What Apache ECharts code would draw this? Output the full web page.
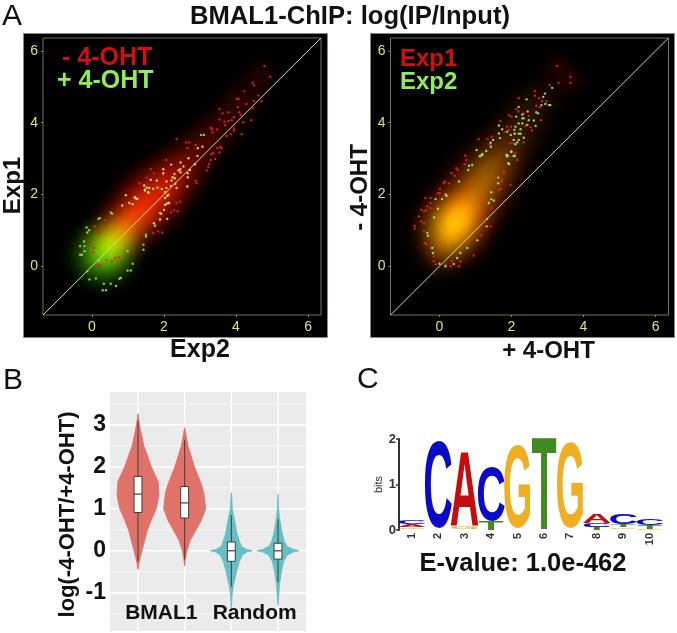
<!DOCTYPE html>
<html><head><meta charset="utf-8">
<style>html,body{margin:0;padding:0;background:#fff}#c{width:677px;height:633px}</style>
<script src="https://cdn.jsdelivr.net/npm/echarts@6/dist/echarts.min.js"></script></head>
<body><div id="c"></div>
<script>
const scatterTicks=[0,2,4,6];
const scatterRange=[-1.36,6.36];
const diagonal=[[-1.36,-1.36],[6.36,6.36]];
// smoothed density: x, y, spread, weight
const a1RedDensity=[[0.35,0.4,1.1,.32],[0.7,0.85,1.1,.42],[1.1,1.3,1.2,.5],[1.5,1.75,1.25,.45],[1.9,2.1,1.25,.4],[2.3,2.5,1.1,.33],[2.7,2.95,1.0,.24],[3.1,3.4,.9,.18],[3.5,3.8,.9,.14],[3.9,4.3,.9,.12],[4.3,4.7,.8,.11],[4.7,5.3,.7,.12]];
const a1GreenDensity=[[0.3,0.3,1.2,.6],[0.6,.65,1.05,.33],[.95,1.05,.9,.2],[1.4,1.5,.9,.1],[1.9,2.1,.9,.04]];
const a2RedDensity=[[0.1,.4,1.0,.2],[0.3,1.0,1.4,.5],[.5,1.3,1.4,.38],[.8,1.7,1.4,.32],[1.1,2.2,1.4,.3],[1.45,2.7,1.3,.26],[1.8,3.2,1.2,.18],[2.2,3.8,1.1,.13],[2.6,4.4,1.0,.11],[3.0,4.9,.8,.07],[3.27,5.58,.6,.1],[3.64,5.2,.6,.12]];
const a2GreenDensity=[[0.1,.4,.9,.1],[0.3,1.0,1.15,.42],[.5,1.3,1.15,.25],[.8,1.7,1.1,.2],[1.1,2.2,1.1,.2],[1.45,2.7,1.0,.17],[1.8,3.2,1.0,.1],[2.2,3.8,1.0,.06],[2.6,4.4,.9,.04]];
const a1Green=[[0.18,1.32],[0.22,1.34],[0.52,1.5],[0.56,1.46],[-0.15,1.08],[-0.08,1.0],[-0.13,0.94],[-0.22,0.69],[-0.33,0.56],[-0.21,0.56],[-0.21,0.42],[-0.33,0.32],[-0.28,0.32],[0.2,0.16],[-0.13,-0.14],[-0.07,-0.37],[0.11,-0.34],[0.33,-0.49],[0.52,-0.49],[0.76,-0.35],[0.8,-0.33],[0.67,-0.55],[0.3,-0.67],[0.39,-0.67],[0.99,0.42],[1.13,0.07],[0.99,-0.12],[1.08,-0.12],[1.43,0.46],[1.43,0.6],[1.5,0.88],[1.5,0.83],[3.03,3.66],[3.11,3.66]];
const a1Yellow=[[0.94,1.98],[0.84,1.69],[1.04,1.76],[1.13,1.73],[1.19,1.92],[1.26,1.88],[1.89,1.48],[1.92,1.46],[1.72,1.2],[1.75,1.13],[1.89,1.3],[2.09,1.32],[2,1.57],[2.07,1.74],[2.14,1.76],[2.03,2.06],[2.12,1.99],[1.47,2.11],[1.56,2.06],[2.94,3.29],[3.07,3.33],[2.93,3.07],[2.68,3.01],[2.46,2.89],[2.2,2.83],[2.86,2.84],[2.72,2.68],[2.54,2.78],[2.45,2.7],[2.4,2.67],[2.46,2.62],[1.98,2.7],[1.98,2.59],[2.29,2.57],[2.24,2.48],[2.3,2.45],[2.66,2.59],[2.66,2.48],[2.21,2.39],[2.07,2.36],[1.8,2.39],[1.63,2.41],[1.45,2.25],[1.52,2.19],[1.59,2.18],[1.7,2.16],[1.82,2.19],[1.94,2.15],[2.07,2.18],[2.19,2.24],[2.31,2.3],[2.35,2.18],[2.65,2.22],[1.47,2.13],[1.57,2.05],[2.09,1.96],[2.03,1.9],[2.12,1.76],[2.03,1.71],[1.2,1.9],[1.24,1.87]];
const a1Red=[[0.08,1.11],[0.36,1.28],[0.15,.94],[.2,.94],[.27,1.04],[-0.04,.67],[.06,.51],[.04,.39],[.41,.17],[.55,.14],[.64,.23],[.75,.25],[.18,.02],[.24,.02],[.76,.02],[1.7,.93],[1.84,.97],[1.95,.94],[2.19,1.5],[2.28,1.56],[2.38,1.53],[4.79,5.58],[4.95,5.28],[4.46,5.11],[4.5,5.04],[4.23,4.88],[4.62,4.76],[4.02,4.67],[4.07,4.66],[4.29,4.52],[4.5,4.6],[4.71,4.6],[4.05,4.44],[4.46,4.4],[3.54,4.38],[3.79,4.29],[3.63,4.26],[4.09,4.29],[4.13,4.21],[3.54,4.09],[3.94,4.15],[3.88,4.07],[3.79,4.05],[3.68,4.03],[4.2,4.01],[4.42,4.07],[3.3,3.86],[3.33,3.82],[3.48,3.81],[3.7,3.93],[3.95,3.84],[3.94,3.78],[3.35,3.73],[4.16,3.68],[3.74,3.63],[3.86,3.68],[2.35,3.55],[2.61,3.45],[2.7,3.45],[2.88,3.38],[2.65,3.29],[3.56,3.33],[3.48,3.29],[3.6,3.29],[3.37,3.15],[3.32,3.12],[3.54,3.17],[3.42,2.99],[3.3,2.96],[3.25,2.84],[3.23,2.76],[3.19,2.67],[2.06,2.96],[1.63,2.71],[1.72,2.59],[1.52,2.47],[1.32,2.31],[2.88,2.38],[2.91,2.31],[2.45,1.8],[2.35,1.76],[1.98,2.55]];
const a2Red=[[-.69,1.13],[-.69,1.05],[-.57,1.39],[-.51,1.25],[-.43,1.2],[-.51,1.57],[-.43,1.53],[-.37,1.57],[-.34,1.67],[-.39,1.9],[-.25,1.9],[-.25,1.76],[-.25,1.62],[-.05,2.04],[.01,2.04],[.01,2.16],[.15,2.36],[.12,2.31],[.26,2.31],[.33,2.59],[.42,2.52],[.47,2.73],[.51,2.68],[.72,3.08],[.7,2.84],[.75,2.96],[-.41,.65],[-.37,.62],[-.43,.97],[-.22,.51],[-.16,.28],[-.16,.14],[-.11,.05],[.17,.05],[.35,.14],[.31,0],[.54,0],[.58,.14],[.95,.3],[1.16,.86],[1.42,1.11],[1.2,1.3],[1.65,2.13],[1.7,2.15],[1.74,2.41],[1.72,2.36],[1.97,2.27],[1.79,2.59],[1.46,1.62],[2.16,2.96],[3.27,5.58],[3.64,5.28],[3.64,5.11],[3.31,5.11],[3.06,5.05],[2.65,4.88],[2.65,4.75],[2.76,4.68],[2.85,4.6],[2.97,4.6],[2.2,4.68],[2.69,4.47],[2.79,4.43],[2.14,4.38],[2.19,4.31],[1.93,4.21],[2,4.17],[2.34,4.26],[2.48,4.19],[2.82,4.07],[1.69,4.05],[2.39,3.91],[1.88,3.89],[1.99,3.89],[2.53,3.87],[2.57,3.78],[1.8,3.73],[1.93,3.8],[2.08,3.7],[1.46,3.61],[1.34,3.55],[1.09,3.54],[2.34,3.45],[1.97,3.43],[2.06,3.43],[2.11,3.15],[1.93,3.07],[2.16,2.96],[1.79,2.64],[1.4,3.4]];
const a2Green=[[-.34,.93],[-.32,.85],[-.15,1.36],[-.04,1.6],[-.11,1.87],[.07,1.87],[.17,2.0],[.2,1.96],[.54,2.36],[.82,2.8],[.8,2.68],[.91,2.82],[1.14,3.08],[1.19,3.13],[-.2,.51],[-.18,.37],[0,.07],[.17,0],[.4,.06],[.49,.23],[.58,.37],[.77,.51],[1.05,.72],[1.31,1.11],[1.32,1.32],[1.37,1.76],[1.44,2.06],[1.44,1.87],[1.51,1.83],[1.63,2.47],[1.63,2.31],[1.88,3.1],[1.93,2.85],[2,3.19],[2.09,3.07],[3.13,4.97],[2.93,4.81],[2.88,4.72],[2.42,4.65],[2.83,4.49],[2.94,4.52],[3.04,4.49],[3.08,4.49],[2.2,4.44],[2.13,4.17],[2.69,4.29],[2.74,4.26],[2.3,4.23],[2.45,4.31],[2.3,4.12],[2.34,4.12],[2.48,4.07],[2.62,4.06],[2.2,3.98],[2.3,3.98],[1.65,3.92],[2.67,3.91],[2.11,3.89],[2.44,3.94],[1.74,3.82],[2.08,3.8],[1.88,3.75],[2.25,3.82],[1.65,3.7],[2.09,3.69],[2.2,3.69],[2.25,3.69],[1.98,3.66],[2.34,3.58],[1.49,3.52],[1.42,3.44],[1.68,3.57],[2.06,3.52],[2.2,3.52],[2.16,3.45],[2.11,3.4],[1.03,3.24],[1.3,3.21],[1.43,3.33],[1.19,3.1],[1.12,3.06],[1.99,3.19],[1.86,3.1],[2.06,3.07],[1.91,2.87],[1.88,3.06]];

const violinX=[1,2,3,4];
const violinColumns=[0,0,1,1];
const violinProfiles=[
 [[3.26,0],[3.0,.03],[2.5,.125],[2.0,.285],[1.65,.43],[1.35,.45],[1.21,.43],[1.0,.39],[.73,.285],[.49,.2],[0,.085],[-.22,.035],[-.44,0]],
 [[2.93,0],[2.5,.07],[2.0,.21],[1.57,.36],[1.38,.41],[1.21,.43],[1.0,.45],[.73,.36],[.49,.24],[.25,.12],[0,.05],[-.18,.02],[-.36,0]],
 [[1.38,0],[1.2,.012],[1.0,.02],[.73,.07],[.41,.12],[.21,.18],[.1,.22],[.03,.33],[0,.45],[-.03,.33],[-.1,.24],[-.26,.17],[-.5,.11],[-.78,.055],[-1,.02],[-1.37,0]],
 [[1.35,0],[1.0,.012],[.73,.04],[.41,.09],[.21,.14],[.1,.2],[.03,.33],[0,.45],[-.03,.33],[-.1,.2],[-.26,.12],[-.5,.07],[-.78,.035],[-1.3,0]]];
const boxQ1=[.91,.78,-.25,-.2], boxMedian=[1.35,1.14,0,0], boxQ3=[1.77,1.53,.21,.18], whiskerLow=[-.25,-.2,-.85,-.75], whiskerHigh=[3.1,2.64,.85,.75];
const violinMajorY=[-1,0,1,2,3], violinMinorY=[-1.5,-.5,.5,1.5,2.5,3.5];
const violinGroups=['BMAL1','Random'], violinGroupAt=[1.5,3.5];
const logoColumns=[1,2,3,4,5,6,7,8,9,10];
// column, letter, bottom bits, top bits
const logoLetters=[[1,'G',.02,.06],[1,'A',.07,.11],[1,'C',.12,.22],
 [2,'C',0,1.96],
 [3,'G',.02,.07],[3,'A',.08,1.66],
 [4,'T',0,.18],[4,'C',.18,1.38],
 [5,'G',0,1.88],[6,'T',0,1.96],[7,'G',0,1.92],
 [8,'T',0,.07],[8,'C',.07,.15],[8,'A',.15,.33],
 [9,'G',.02,.06],[9,'T',.07,.13],[9,'C',.13,.35],
 [10,'G',.01,.03],[10,'T',.03,.1],[10,'C',.1,.25]];

const FONT='"Liberation Sans",Arial,sans-serif';
const chart=echarts.init(document.getElementById('c'),null,{renderer:'canvas'});
const stops=(c)=>[[0,1],[.2,.88],[.4,.6],[.6,.3],[.8,.09],[1,0]].map(s=>({offset:s[0],color:`rgba(${c},${s[1]})`}));
function blobSeries(data,idx,rgb){
  return {type:'custom',xAxisIndex:idx,yAxisIndex:idx,blendMode:'lighter',silent:true,clip:true,z:2,data,
   renderItem(p,api){
    const c=api.coord([api.value(0),api.value(1)]),r=api.size([api.value(2),0])[0],w=api.value(3);
    return {type:'circle',shape:{cx:c[0],cy:c[1],r},style:{opacity:w,
      fill:new echarts.graphic.RadialGradient(.5,.5,.5,stops(rgb))}};
   }};
}
const dots=(data,idx,color)=>({type:'scatter',xAxisIndex:idx,yAxisIndex:idx,data,symbolSize:2.4,silent:true,z:4,itemStyle:{color,opacity:.9}});
const diag=(idx)=>({type:'line',xAxisIndex:idx,yAxisIndex:idx,data:diagonal,symbol:'none',silent:true,z:3,lineStyle:{color:'#d8d890',width:1}});
function sAxis(gi,name,nameExtra,pos){
  const col='#e4e070';
  return {gridIndex:gi,type:'value',min:scatterRange[0],max:scatterRange[1],position:pos,
    splitLine:{show:false},axisLine:{show:false,onZero:false},
    axisTick:{show:true,length:2,customValues:scatterTicks,lineStyle:{color:'#8a8a50'}},
    axisLabel:{customValues:scatterTicks,color:col,fontFamily:FONT,fontSize:14,margin:5},
    name,nameLocation:'middle',nameGap:nameExtra.gap,nameRotate:pos==='left'?90:0,
    nameTextStyle:{fontFamily:FONT,fontWeight:'bold',fontSize:nameExtra.size||24,color:'#111',padding:nameExtra.padding||0}};
}
const txt=(text,left,top,size,color,weight,align)=>({text,left,top,textAlign:align||'left',padding:0,
  textStyle:{fontFamily:FONT,fontSize:size,color,fontWeight:weight||'bold',lineHeight:size}});
const letterColor={A:'#c40d0d',C:'#0a0ac8',G:'#eeaf22',T:'#3f8a22'};
const letterWidth={A:.722,C:.722,G:.778,T:.72};
const letterHeight={A:.68,C:.727,G:.727,T:.68};
chart.setOption({
  animation:false,backgroundColor:'#fff',
  title:[
   txt('A',2,2,30,'#111','normal'),txt('B',3,366,30,'#111','normal'),txt('C',357,365,30,'#111','normal'),
   txt('BMAL1-ChIP: log(IP/Input)',350,4,25.6,'#111','bold','center'),
   txt('- 4-OHT',62,46,25,'#d01010'),txt('+ 4-OHT',57,69,25,'#90ee50'),
   txt('Exp1',400,47,24,'#d01010'),txt('Exp2',400,70,24,'#90ee50'),
   txt('E-value: 1.0e-462',523,551,25.5,'#111','bold','center')
  ],
  graphic:{elements:[
   {type:'rect',z:-10,shape:{x:23.5,y:33.5,width:304,height:304},style:{fill:'#000',stroke:'#888',lineWidth:1}},
   {type:'rect',z:-10,shape:{x:370.5,y:33.5,width:304,height:304},style:{fill:'#000',stroke:'#888',lineWidth:1}}
  ]},
  grid:[
   {left:43,top:38,width:278,height:277,show:true,backgroundColor:'transparent',borderColor:'#77774a',borderWidth:1,outerBoundsMode:'none'},
   {left:390.5,top:38,width:278,height:277,show:true,backgroundColor:'transparent',borderColor:'#77774a',borderWidth:1,outerBoundsMode:'none'},
   {left:110,top:392,width:196,height:239,show:true,backgroundColor:'#ebebeb',borderWidth:0,outerBoundsMode:'none'},
   {left:399,top:439,width:264,height:91,show:false,outerBoundsMode:'none'}
  ],
  xAxis:[
   sAxis(0,'Exp2',{gap:23,padding:[0,0,0,36],size:25},'bottom'),
   sAxis(1,'+ 4-OHT',{gap:24,padding:[0,0,0,38]},'bottom'),
   {gridIndex:2,type:'value',z:6,min:.4,max:4.6,splitLine:{show:false},axisLine:{show:false,onZero:false},axisTick:{show:false},
    axisLabel:{inside:true,customValues:violinGroupAt,formatter:v=>violinGroups[violinGroupAt.indexOf(v)],fontFamily:FONT,fontWeight:'bold',fontSize:21,color:'#111',margin:7}},
   {gridIndex:3,type:'value',min:.52,max:10.5,splitLine:{show:false},axisLine:{show:false,onZero:false},axisTick:{show:false},
    axisLabel:{customValues:logoColumns,rotate:90,fontFamily:FONT,fontWeight:'bold',fontSize:11,color:'#333',margin:3}}
  ],
  yAxis:[
   sAxis(0,'Exp1',{gap:18,padding:[0,18,0,0]},'left'),
   sAxis(1,'- 4-OHT',{gap:18,padding:[0,22,0,0]},'left'),
   {gridIndex:2,type:'value',min:-1.91,max:3.78,splitLine:{show:false},axisLine:{show:false,onZero:false},axisTick:{show:false},
    axisLabel:{customValues:violinMajorY,fontFamily:FONT,fontWeight:'bold',fontSize:23,color:'#111',margin:4},
    name:'log(-4-OHT/+4-OHT)',nameLocation:'middle',nameGap:31,nameRotate:90,
    nameTextStyle:{fontFamily:FONT,fontWeight:'bold',fontSize:22,color:'#111',padding:[0,6,0,0]}},
   {gridIndex:3,type:'value',min:0,max:2,interval:1,splitLine:{show:false},
    axisLine:{show:true,onZero:false,lineStyle:{color:'#333',width:2}},axisTick:{show:true,length:3,lineStyle:{color:'#333',width:1.5}},
    axisLabel:{fontFamily:FONT,fontWeight:'bold',fontSize:13,color:'#333',margin:3},
    name:'bits',nameLocation:'middle',nameGap:12,nameRotate:90,nameTextStyle:{fontFamily:FONT,fontSize:11,color:'#333'}}
  ],
  series:[
   blobSeries(a1RedDensity,0,'255,20,0'),blobSeries(a1GreenDensity,0,'20,255,0'),
   diag(0),dots(a1Red,0,'#d8242e'),dots(a1Green,0,'#92dc4c'),dots(a1Yellow,0,'#e2e070'),
   blobSeries(a2RedDensity,1,'255,20,0'),blobSeries(a2GreenDensity,1,'20,255,0'),
   diag(1),dots(a2Red,1,'#d8242e'),dots(a2Green,1,'#a8e860'),
   {type:'custom',xAxisIndex:2,yAxisIndex:2,silent:true,z:1,data:violinMinorY.map(v=>[1,v]),renderItem(p,api){
     const cs=p.coordSys,y=api.coord([1,api.value(1)])[1];
     return {type:'line',shape:{x1:cs.x,y1:y,x2:cs.x+cs.width,y2:y},style:{stroke:'#fff',lineWidth:.7}};}},
   {type:'custom',xAxisIndex:2,yAxisIndex:2,silent:true,z:1,data:violinMajorY.map(v=>[1,v]),renderItem(p,api){
     const cs=p.coordSys,y=api.coord([1,api.value(1)])[1];
     return {type:'line',shape:{x1:cs.x,y1:y,x2:cs.x+cs.width,y2:y},style:{stroke:'#fff',lineWidth:1.4}};}},
   {type:'custom',xAxisIndex:2,yAxisIndex:2,silent:true,z:1,data:violinX.map(v=>[v,0]),renderItem(p,api){
     const cs=p.coordSys,x=api.coord([api.value(0),0])[0];
     return {type:'line',shape:{x1:x,y1:cs.y,x2:x,y2:cs.y+cs.height},style:{stroke:'#fff',lineWidth:1.4}};}},
   {type:'custom',xAxisIndex:2,yAxisIndex:2,silent:true,z:3,data:violinX.map((v,i)=>[v,boxMedian[i]]),renderItem(p,api){
     const i=p.dataIndex,x=api.value(0),prof=violinProfiles[i];
     const right=prof.map(d=>api.coord([x+d[1],d[0]])),left=prof.slice().reverse().map(d=>api.coord([x-d[1],d[0]]));
     const fill=violinColumns[i]?'#66bfc4':'#e0726a';
     const hw=.085,a=api.coord([x-hw,boxQ3[i]]),b=api.coord([x+hw,boxQ1[i]]),m1=api.coord([x-hw,boxMedian[i]]),m2=api.coord([x+hw,boxMedian[i]]);
     const wt=api.coord([x,whiskerHigh[i]]),wb=api.coord([x,whiskerLow[i]]);
     const dark='#3c3c3c';
     return {type:'group',children:[
       {type:'polygon',shape:{points:right.concat(left)},style:{fill,stroke:fill,lineWidth:.9}},
       {type:'line',shape:{x1:wt[0],y1:wt[1],x2:wb[0],y2:wb[1]},style:{stroke:dark,lineWidth:1}},
       {type:'rect',shape:{x:a[0],y:a[1],width:b[0]-a[0],height:b[1]-a[1]},style:{fill:'#fff',stroke:dark,lineWidth:1}},
       {type:'line',shape:{x1:m1[0],y1:m1[1],x2:m2[0],y2:m2[1]},style:{stroke:dark,lineWidth:1.2}}
     ]};}},
   {type:'custom',xAxisIndex:3,yAxisIndex:3,silent:true,z:3,clip:false,data:logoLetters.map(d=>[d[0],d[2],d[3]]),renderItem(p,api){
     const d=logoLetters[p.dataIndex],L=d[1];
     const lo=api.coord([d[0],d[2]]),hi=api.coord([d[0],d[3]]),unit=api.size([1,0])[0];
     const h=lo[1]-hi[1],w=unit*1.12,fs=100;
     return {type:'text',x:lo[0],y:(lo[1]+hi[1])/2+h*.085,
       scaleX:w/(letterWidth[L]*fs),scaleY:h/(letterHeight[L]*fs),
       style:{text:L,x:0,y:0,align:'center',verticalAlign:'middle',font:`bold ${fs}px ${FONT}`,fill:letterColor[L]}};}}
  ]
});
</script></body></html>
